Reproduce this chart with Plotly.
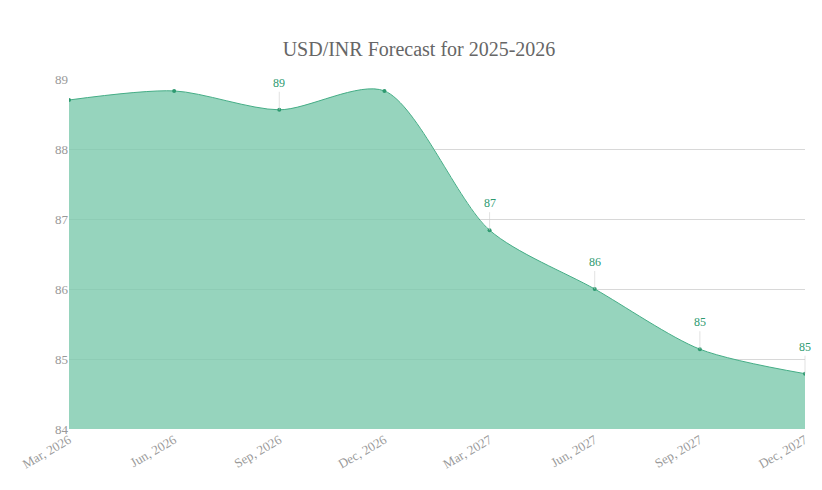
import plotly.graph_objects as go

months = ["Mar, 2026", "Jun, 2026", "Sep, 2026", "Dec, 2026",
          "Mar, 2027", "Jun, 2027", "Sep, 2027", "Dec, 2027"]
rates = [88.70, 88.83, 88.56, 88.83, 86.84, 86.00, 85.14, 84.79]
point_labels = ["", "", "89", "", "87", "86", "85", "85"]

fig = go.Figure()
fig.add_trace(go.Scatter(
    x=months, y=rates, mode="lines+markers",
    line=dict(color="#45ad86", width=1, shape="spline", smoothing=0.8),
    marker=dict(color="#2e9a70", size=4),
    fill="tozeroy", fillcolor="rgba(120,200,170,0.78)",
    hoverinfo="x+y",
))

for m, r, lab in zip(months, rates, point_labels):
    if lab:
        fig.add_annotation(x=m, y=r, text=lab, showarrow=True, arrowhead=0,
                           arrowwidth=0.6, arrowcolor="#cfcfcf", ax=0, ay=-18,
                           font=dict(color="#2e9a70", size=12, family="Liberation Serif"),
                           yanchor="bottom")

fig.update_layout(
    width=822, height=490,
    margin=dict(l=55, r=25, t=71, b=69),
    paper_bgcolor="white", plot_bgcolor="white",
    title=dict(text="USD/INR Forecast for 2025-2026", x=0.5, y=0.93,
               font=dict(family="Liberation Serif", size=20, color="#666666")),
    showlegend=False,
    font=dict(family="Liberation Serif", color="#999999", size=13),
)
fig.update_xaxes(showgrid=False, tickangle=-30, showline=False, ticks="",
                 range=[0, len(months) - 1], tickfont=dict(size=13, color="#999999"))
fig.update_yaxes(range=[84, 89], dtick=1, gridcolor="#d8d8d8", zeroline=False,
                 tickfont=dict(size=13, color="#999999"))

fig.write_html("out.html")
